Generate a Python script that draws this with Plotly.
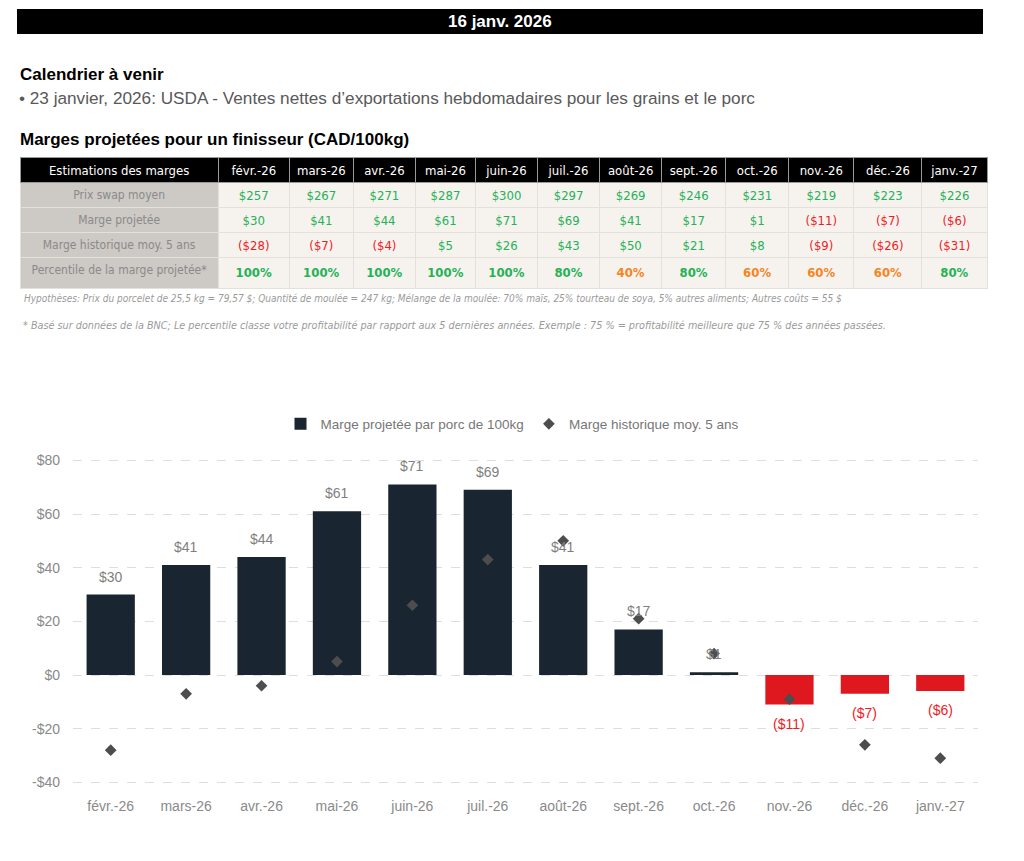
import plotly.graph_objects as go

W, H = 1024, 861
OFF = 8  # page body margin in the browser

months = ["févr.-26", "mars-26", "avr.-26", "mai-26", "juin-26", "juil.-26",
          "août-26", "sept.-26", "oct.-26", "nov.-26", "déc.-26", "janv.-27"]
swap_price = [257, 267, 271, 287, 300, 297, 269, 246, 231, 219, 223, 226]
proj_margin = [30, 41, 44, 61, 71, 69, 41, 17, 1, -11, -7, -6]
hist_margin = [-28, -7, -4, 5, 26, 43, 50, 21, 8, -9, -26, -31]
percentile = [100, 100, 100, 100, 100, 80, 40, 80, 60, 60, 60, 80]
row_labels = ["Prix swap moyen", "Marge projetée", "Marge historique moy. 5 ans",
              "Percentile de la marge projetée*"]
y_ticks = [-40, -20, 0, 20, 40, 60, 80]

COND = "DejaVu Sans Condensed, sans-serif"
SANS = "Liberation Sans, Arial, sans-serif"
GREEN = "#25b156"
RED = "#ee1c25"
ORANGE = "#f7841f"
NAVY = "#192530"
BARRED = "#df1820"
GRAYTXT = "#8a8a8a"


def px(x):
    return (x - OFF) / W


def py(y):
    return 1 - (y - OFF) / H


def money(v):
    return f"${v}" if v >= 0 else f"(${-v})"


def mcol(v):
    return GREEN if v >= 0 else RED


def pcol(p):
    return GREEN if p >= 80 else ORANGE


fig = go.Figure()

# ---------- table ----------
header_vals = ["Estimations des marges"] + months
cell_vals = [[r.replace(" ", "\u00a0") for r in row_labels]]
cell_colors = [[GRAYTXT] * 4]
for i in range(len(months)):
    cell_vals.append([money(swap_price[i]), money(proj_margin[i]),
                      money(hist_margin[i]), f"<b>{percentile[i]}%</b>"])
    cell_colors.append([GREEN, mcol(proj_margin[i]), mcol(hist_margin[i]),
                        pcol(percentile[i])])
fills = [["#cdc9c5"] * 4] + [["#f6f3ef"] * 4 for _ in months]
sizes = [12] + [13] * len(months)

fig.add_trace(go.Table(
    domain=dict(x=[px(20), px(987)], y=[py(300), py(157)]),
    columnwidth=[198, 71, 64, 62, 60, 62, 62, 62, 64, 63, 65, 68, 65],
    header=dict(values=header_vals, fill_color="black",
                font=dict(color="white", size=13, family=COND),
                align="center", height=25,
                line=dict(color="#9a9a9a", width=1)),
    cells=dict(values=cell_vals, fill_color=fills,
               font=dict(color=cell_colors, size=sizes, family=COND),
               align="center", height=25,
               line=dict(color="#e4e1dd", width=1)),
))

# ---------- chart ----------
bar_colors = [NAVY if v >= 0 else BARRED for v in proj_margin]
txt_colors = ["#7f7f7f" if v >= 0 else RED for v in proj_margin]
fig.add_trace(go.Bar(
    x=months, y=proj_margin, name="Marge projetée par porc de 100kg",
    marker=dict(color=bar_colors, line=dict(width=0)),
    cliponaxis=False, hoverinfo="skip",
))
fig.add_trace(go.Scatter(
    x=months, y=hist_margin, name="Marge historique moy. 5 ans",
    mode="markers", marker=dict(symbol="diamond", size=9, color="#4d4d4d"),
    cliponaxis=False, hoverinfo="skip",
))

# bar value labels, placed through the data axes
for m, v, c in zip(months, proj_margin, txt_colors):
    fig.add_annotation(x=m, y=v, xref="x", yref="y", text=money(v),
                       showarrow=False, yanchor="middle",
                       yshift=18 if v >= 0 else -19,
                       font=dict(size=14, color=c, family=SANS))

fig.update_layout(
    width=W, height=H, margin=dict(l=0, r=0, t=0, b=0),
    paper_bgcolor="white", plot_bgcolor="white",
    bargap=0.36, showlegend=True,
    legend=dict(orientation="h", x=px(512), xanchor="center", y=py(424),
                yanchor="middle", font=dict(size=13.5, color="#777777", family=SANS),
                itemwidth=30, traceorder="normal"),
    xaxis=dict(domain=[px(73), px(978)], range=[-0.5, 11.5], showgrid=False,
               zeroline=False, showline=False, ticks="", ticklabelstandoff=6,
               tickfont=dict(size=14, color="#8a8a8a", family=SANS)),
    yaxis=dict(domain=[py(790.4), py(449.6)], range=[-43, 84],
               tickvals=y_ticks,
               ticktext=[f"${v}" if v >= 0 else f"-${-v}" for v in y_ticks],
               showgrid=True, gridcolor="#dedede", griddash="dash", gridwidth=1,
               zeroline=False, showline=False, ticks="", ticklabelstandoff=12,
               tickfont=dict(size=14, color="#8a8a8a", family=SANS)),
)

# ---------- header & texts ----------
fig.add_shape(type="rect", xref="paper", yref="paper",
              x0=px(17), x1=px(983), y0=py(34), y1=py(9),
              fillcolor="black", line=dict(width=0), layer="below")
ann = [
    dict(x=px(500), y=py(21.5), text="<b>16 janv. 2026</b>", xanchor="center",
         font=dict(size=17, color="white", family=SANS)),
    dict(x=px(18), y=py(74), text="<b>Calendrier à venir</b>", xanchor="left",
         font=dict(size=17, color="black", family=SANS)),
    dict(x=px(17), y=py(97.5),
         text="• 23 janvier, 2026: USDA - Ventes nettes d’exportations hebdomadaires pour les grains et le porc",
         xanchor="left", font=dict(size=17.2, color="#595959", family=SANS)),
    dict(x=px(18), y=py(140), text="<b>Marges projetées pour un finisseur (CAD/100kg)</b>",
         xanchor="left", font=dict(size=17, color="black", family=SANS)),
    dict(x=px(22), y=py(298),
         text="<i>Hypothèses: Prix du porcelet de 25,5 kg = 79,57 $; Quantité de moulée = 247 kg; Mélange de la moulée: 70% maïs, 25% tourteau de soya, 5% autres aliments; Autres coûts = 55 $</i>",
         xanchor="left", font=dict(size=10, color="#9a9a9a", family=COND)),
    dict(x=px(21), y=py(325),
         text="<i>* Basé sur données de la BNC; Le percentile classe votre profitabilité par rapport aux 5 dernières années. Exemple : 75 % = profitabilité meilleure que 75 % des années passées.</i>",
         xanchor="left", font=dict(size=10.75, color="#9a9a9a", family=COND)),
]
for a in ann:
    a.update(xref="paper", yref="paper", yanchor="middle", showarrow=False)
    fig.add_annotation(**a)

fig.write_html("out.html")
